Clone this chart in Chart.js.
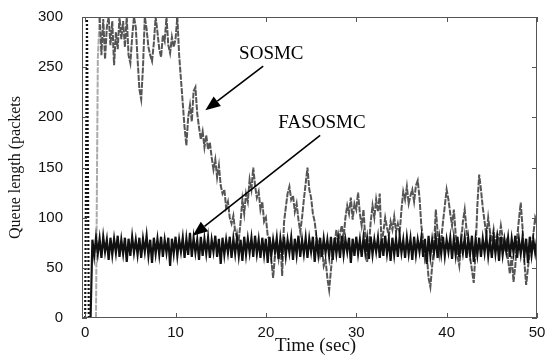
<!DOCTYPE html>
<html>
<head>
<meta charset="utf-8">
<script src="https://cdn.jsdelivr.net/npm/chart.js@4/dist/chart.umd.min.js"></script>
<style>
  html, body { margin: 0; padding: 0; background: #fff; }
  #wrap { width: 547px; height: 356px; }
</style>
</head>
<body>
<div id="wrap"><canvas id="c" width="547" height="356"></canvas></div>
<script>
const sampleStep = 0.2;
const xTicks = [0, 10, 20, 30, 40, 50];
const yTicks = [0, 50, 100, 150, 200, 250, 300];
const xTitle = 'Time (sec)';
const yTitle = 'Queue length (packets';

const sosmc = [
  0,0,0,0,0,0,0,258,300,262,
  298,258,290,300,272,296,252,285,268,300,
  278,296,270,300,262,254,280,300,290,258,
  228,218,250,300,288,270,262,256,274,300,
  285,268,260,282,276,300,272,264,280,270,
  278,300,262,238,214,190,172,200,212,196,
  226,230,204,190,178,186,170,182,168,175,
  160,148,158,140,152,132,124,128,110,116,
  100,94,102,86,80,78,96,118,104,124,
  116,138,128,150,132,120,126,108,116,96,
  100,82,78,58,40,62,74,60,78,42,
  95,110,124,131,118,122,106,114,98,86,
  100,118,134,150,128,120,104,96,80,74,
  62,70,52,58,40,28,48,66,74,88,
  72,84,92,80,100,112,104,120,98,114,
  108,125,104,92,108,80,56,72,96,112,
  100,118,106,124,72,86,100,90,82,96,
  88,101,86,94,84,108,126,118,131,114,
  122,128,116,132,137,120,92,78,58,64,
  40,31,52,70,108,86,64,78,96,112,
  128,118,104,92,108,84,62,52,74,96,
  108,88,74,60,48,35,66,112,143,128,
  110,96,82,100,86,76,88,72,84,78,
  92,80,70,76,58,44,62,36,52,80,
  98,115,90,56,33,50,66,72,84,100,
  94
];

const fasosmc = [
  0,300,0,0,78,62,80,64,79,60,
  81,66,78,58,80,63,79,65,82,61,
  78,64,80,56,79,62,81,65,78,63,
  80,60,79,66,82,62,78,55,80,64,
  79,63,81,61,78,65,80,52,79,64,
  81,62,78,66,80,60,79,63,85,61,
  80,65,78,58,81,62,79,64,80,60,
  78,66,82,61,79,54,80,63,78,65,
  81,60,79,64,80,62,78,57,81,63,
  79,65,80,61,82,64,78,60,80,63,
  79,55,81,62,78,66,80,59,79,64,
  81,62,78,65,80,58,79,63,82,61,
  78,64,80,60,79,66,81,56,78,63,
  80,61,79,65,78,62,81,58,80,64,
  79,60,82,63,78,66,80,55,79,62,
  81,64,78,61,80,65,79,59,81,63,
  78,66,80,60,79,62,82,64,78,57,
  80,63,79,61,81,65,78,60,80,64,
  79,58,81,63,78,66,80,61,79,54,
  82,62,78,65,80,60,79,64,81,62,
  78,66,80,59,79,63,81,61,78,65,
  80,60,79,64,82,56,78,63,80,61,
  79,65,81,62,78,60,80,64,79,57,
  81,63,78,66,80,61,79,65,82,60,
  78,64,80,62,79,55,81,63,78,65,
  79
];

// annotation anchors in data units: [time, value]
const sosmcLabel = { text: 'SOSMC', at: [20.6, 263], from: [19.7, 251], to: [13.3, 207] };
const fasosmcLabel = { text: 'FASOSMC', at: [26.2, 194], from: [26.0, 182], to: [11.9, 82] };
const xTitleAt = 25.5;

// ---- build points ----
const toPts = arr => arr.map((v, i) => ({ x: Math.round(i * sampleStep * 10) / 10, y: v }));

const serif = "'Liberation Serif', 'Times New Roman', serif";
const sans = "'Liberation Sans', Arial, sans-serif";

function arrow(ctx, x1, y1, x2, y2) {
  const ang = Math.atan2(y2 - y1, x2 - x1);
  const hl = 15, hw = 6;
  const bx = x2 - hl * Math.cos(ang), by = y2 - hl * Math.sin(ang);
  ctx.beginPath();
  ctx.moveTo(x1, y1);
  ctx.lineTo(bx, by);
  ctx.stroke();
  ctx.beginPath();
  ctx.moveTo(x2, y2);
  ctx.lineTo(bx + hw * Math.sin(ang), by - hw * Math.cos(ang));
  ctx.lineTo(bx - hw * Math.sin(ang), by + hw * Math.cos(ang));
  ctx.closePath();
  ctx.fill();
}

const framePlugin = {
  id: 'frame',
  afterDatasetsDraw(chart) {
    const { ctx, chartArea: a, scales: { x, y } } = chart;
    ctx.save();
    ctx.strokeStyle = '#555';
    ctx.lineWidth = 1;
    ctx.strokeRect(a.left + 0.5, a.top + 0.5, a.right - a.left - 1, a.bottom - a.top - 1);
    const tl = 5;
    ctx.beginPath();
    xTicks.forEach(t => {
      const px = Math.round(x.getPixelForValue(t)) + 0.5;
      ctx.moveTo(px, a.bottom); ctx.lineTo(px, a.bottom - tl);
      ctx.moveTo(px, a.top); ctx.lineTo(px, a.top + tl);
    });
    yTicks.forEach(v => {
      const py = Math.round(y.getPixelForValue(v)) + 0.5;
      ctx.moveTo(a.left, py); ctx.lineTo(a.left + tl, py);
      ctx.moveTo(a.right, py); ctx.lineTo(a.right - tl, py);
    });
    ctx.stroke();

    // annotations
    ctx.fillStyle = '#000';
    ctx.strokeStyle = '#000';
    ctx.lineWidth = 1.6;
    ctx.font = '19px ' + serif;
    ctx.textAlign = 'center';
    ctx.textBaseline = 'middle';
    [sosmcLabel, fasosmcLabel].forEach(l => {
      ctx.fillText(l.text, x.getPixelForValue(l.at[0]), y.getPixelForValue(l.at[1]));
      arrow(ctx, x.getPixelForValue(l.from[0]), y.getPixelForValue(l.from[1]),
                 x.getPixelForValue(l.to[0]), y.getPixelForValue(l.to[1]));
    });

    // x axis title
    ctx.fillStyle = '#111';
    ctx.font = '19px ' + serif;
    ctx.fillText(xTitle, x.getPixelForValue(xTitleAt), x.bottom - 10);
    ctx.restore();
  }
};

new Chart(document.getElementById('c'), {
  type: 'line',
  data: {
    datasets: [
      {
        label: 'FASOSMC',
        data: toPts(fasosmc),
        borderColor: '#111',
        borderWidth: 2.2,
        pointRadius: 0,
        tension: 0,
        segment: {
          borderDash: c => c.p0DataIndex < 2 ? [2, 2] : undefined
        }
      },
      {
        label: 'SOSMC',
        data: toPts(sosmc),
        borderColor: '#555',
        borderWidth: 2,
        borderDash: [6, 1.2],
        pointRadius: 0,
        tension: 0,
        segment: {
          borderColor: c => (c.p0DataIndex >= 6 && c.p0DataIndex < 8) ? '#aaa' : undefined
        }
      }
    ]
  },
  options: {
    responsive: false,
    animation: false,
    events: [],
    layout: { padding: { top: 17, right: 10, left: 0, bottom: 0 } },
    plugins: { legend: { display: false }, tooltip: { enabled: false } },
    scales: {
      x: {
        type: 'linear',
        min: -0.35,
        max: 50,
        afterBuildTicks: s => { s.ticks = xTicks.map(v => ({ value: v })); },
        afterFit: s => { s.height = 38; },
        grid: { display: false, drawTicks: true, tickLength: 6 },
        border: { display: false },
        ticks: { color: '#111', font: { family: sans, size: 15 }, padding: 0, maxRotation: 0 },
        title: { display: false }
      },
      y: {
        min: 0,
        max: 300,
        afterBuildTicks: s => { s.ticks = yTicks.map(v => ({ value: v })); },
        afterFit: s => { s.width = 82; },
        grid: { display: false, drawTicks: true, tickLength: 19 },
        border: { display: false },
        ticks: { color: '#111', font: { family: sans, size: 15 }, padding: 0 },
        title: { display: true, text: yTitle, color: '#111', font: { family: serif, size: 16 }, padding: { top: 6, bottom: 0 } }
      }
    }
  },
  plugins: [framePlugin]
});
</script>
</body>
</html>
